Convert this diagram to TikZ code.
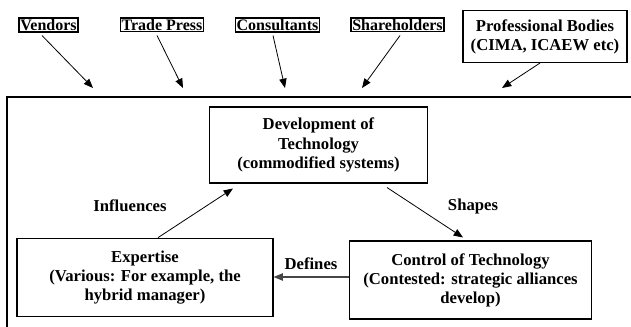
\documentclass[tikz,border=0pt]{standalone}
\usepackage{fontspec}
\setmainfont{Liberation Serif}
\usepackage{tikz}
\usetikzlibrary{arrows.meta, positioning, calc}
\definecolor{mydark}{RGB}{0,0,0}
\definecolor{mygrey}{RGB}{70,70,70}
\tikzset{
  srcbox/.style={rectangle, draw=mydark, line width=0.8pt,
    inner sep=1pt, font=\fontsize{12}{13.5}\selectfont\bfseries},
  block/.style={rectangle, draw=mydark, line width=0.8pt, align=center,
    font=\fontsize{12.5}{14.3}\selectfont\bfseries},
  lbl/.style={font=\fontsize{12.5}{14.3}\selectfont\bfseries},
  arrow/.style={-{Triangle[length=7pt,width=5.5pt]}, line width=0.6pt, color=mydark},
  frame/.style={line width=0.9pt, color=mydark}
}
\begin{document}
\begin{tikzpicture}[x=0.75pt, y=-0.75pt]
  \useasboundingbox (0,0) rectangle (631,327);

  % Outside influences
  \node[srcbox] (vendors) at (48.5,25) {Vendors};
  \node[srcbox] (press) at (162,25) {Trade Press};
  \node[srcbox] (consult) at (277.5,25) {Consultants};
  \node[srcbox] (holders) at (397.5,25) {Shareholders};
  \node[block, minimum width=123pt, minimum height=39pt] (bodies) at (545,36.5)
    {Professional Bodies\\(CIMA, ICAEW etc)};

  \coordinate (vend-in) at (93,88);
  \coordinate (press-in) at (183,88);
  \coordinate (cons-in) at (285,88);
  \coordinate (hold-in) at (362,88);
  \coordinate (body-in) at (502,88);

  \draw[arrow] ($(vendors.south)+(-6.5,3)$) -- (vend-in);
  \draw[arrow] ($(press.south)+(-5,3)$) -- (press-in);
  \draw[arrow] ($(consult.south)+(-4.5,3)$) -- (cons-in);
  \draw[arrow] ($(holders.south)+(2.5,3)$) -- (hold-in);
  \draw[arrow] ($(bodies.south)+(-5,0)$) -- (body-in);

  % Organisation frame
  \coordinate (fr-tl) at (7,97);
  \draw[frame] (631,97) -- (fr-tl) -- (7,327);

  % Cycle inside
  \node[block, minimum width=164pt, minimum height=57pt] (dev) at (318.5,145)
    {Development of\\Technology\\(commodified systems)};
  \node[block, minimum width=192pt, minimum height=59pt] (expert) at (145,277.5)
    {Expertise\\(Various: For example, the\\hybrid manager)};
  \node[block, minimum width=182pt, minimum height=58.5pt] (control) at (470.5,280)
    {Control of Technology\\(Contested: strategic alliances\\develop)};

  \draw[arrow] ($(expert.north)+(13,0)$) -- ($(dev.south)+(-85.5,5)$);
  \node[lbl] (infl) at (130,206) {Influences};
  \draw[arrow] ($(dev.south)+(68.5,4)$) -- ($(control.north)+(-7.5,-3)$);
  \node[lbl] (shapes) at (473,206) {Shapes};
  \draw[arrow, color=mygrey, line width=0.9pt] ($(control.west)+(0,-3)$) -- ($(control.west -| expert.east)+(0,-3)$);
  \node[lbl] (defines) at (311,264) {Defines};
\end{tikzpicture}
\end{document}
